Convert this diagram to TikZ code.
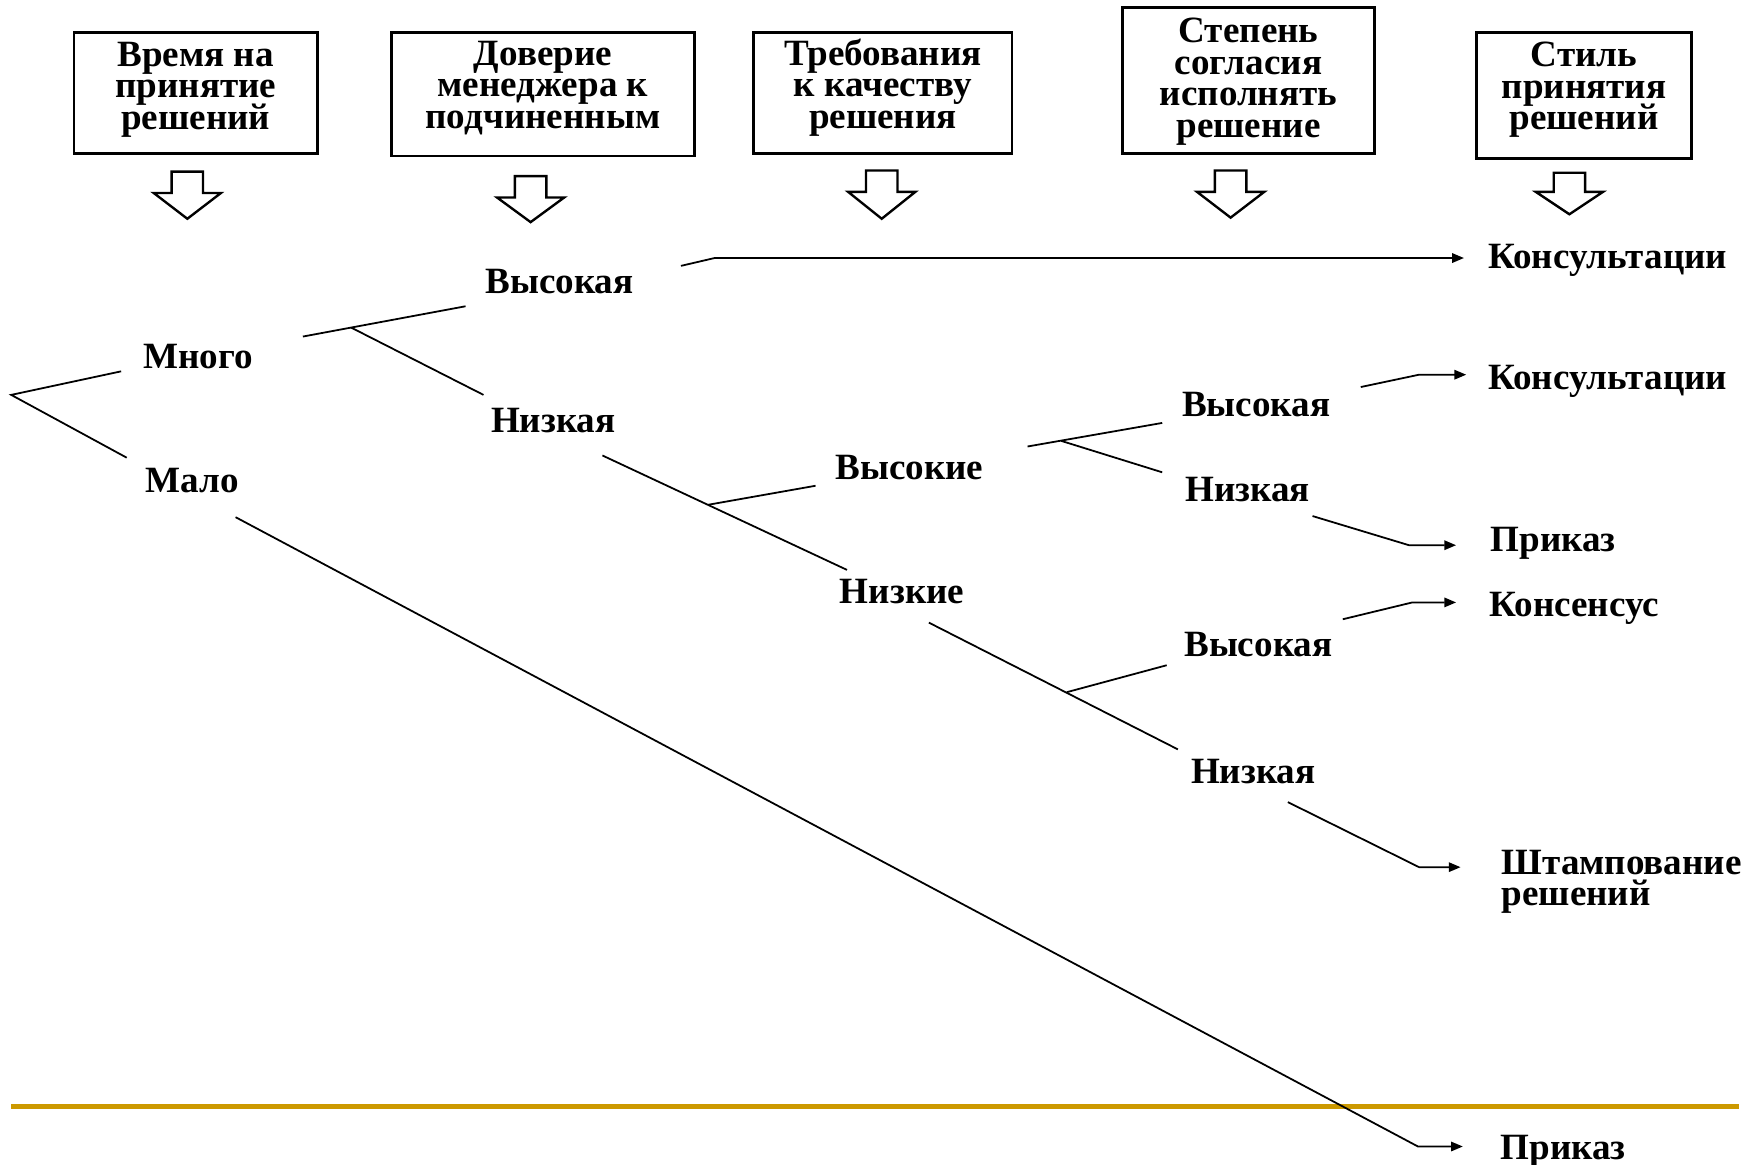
\documentclass[tikz,border=0pt]{standalone}
\usepackage{fontspec}
\setmainfont{Liberation Serif}
\usetikzlibrary{arrows.meta}
\definecolor{goldline}{RGB}{204,153,0}
\newcommand\dgboxfont{\fontsize{9.4}{8}\selectfont\bfseries\lineskiplimit=-10pt\relax}
\newcommand\dglblfont{\fontsize{9.4}{8}\selectfont\bfseries\lineskiplimit=-10pt\relax}
\tikzset{
  box/.style={draw, line width=0.7pt, align=center, font=\dgboxfont, inner sep=0pt, text depth=4.8pt},
  lbl/.style={font=\dglblfont, inner sep=0pt, anchor=west, text height=6.4pt, text depth=0pt},
  conn/.style={line width=0.45pt},
  arr/.style={conn, -{Triangle[length=3pt,width=2.4pt]}},
  hollow/.style={draw, line width=0.6pt, fill=white, line join=miter}
}
\newcommand\hollowdown[4]{% cx, top, head base, tip
  \draw[hollow] ({#1-14},#2) -- ({#1+14},#2) -- ({#1+14},#3) -- ({#1+30},#3) -- (#1,#4)
     -- ({#1-30},#3) -- ({#1-14},#3) -- cycle;}
\begin{document}
\begin{tikzpicture}[x=0.01cm, y=-0.01cm]
\useasboundingbox (0,0) rectangle (1568,1038.5);

% header boxes
\node[box, text depth=3.8pt, minimum width=2.17cm, minimum height=1.08cm] (b1) at (174.5,83) {Время на\\принятие\\решений};
\node[box, minimum width=2.70cm, minimum height=1.10cm] (b2) at (484,84) {Доверие\\менеджера к\\подчиненным};
\node[box, minimum width=2.30cm, minimum height=1.08cm] (b3) at (787,83) {Требования\\к качеству\\решения};
\node[box, text depth=1.5pt, minimum width=2.24cm, minimum height=1.30cm] (b4) at (1113,72) {Степень\\согласия\\исполнять\\решение};
\node[box, minimum width=1.92cm, minimum height=1.12cm] (b5) at (1412,85) {Стиль\\принятия\\решений};

% hollow arrows
\hollowdown{167}{153}{172}{195}
\hollowdown{473}{157}{176}{198}
\hollowdown{786}{152}{171}{195}
\hollowdown{1097}{152}{171}{194}
\hollowdown{1399}{154}{171}{191}

% labels
\node[lbl] (mnogo) at (127,317) {Много};
\node[lbl] (malo) at (129,428) {Мало};
\node[lbl] (vys2) at (432,250) {Высокая};
\node[lbl] (niz2) at (437,374) {Низкая};
\node[lbl] (vys3) at (744,416) {Высокие};
\node[lbl] (niz3) at (748,527) {Низкие};
\node[lbl] (vys4a) at (1053,360) {Высокая};
\node[lbl] (niz4a) at (1056,436) {Низкая};
\node[lbl] (vys4b) at (1055,574) {Высокая};
\node[lbl] (niz4b) at (1061,687) {Низкая};
\node[lbl] (kons1) at (1326,228) {Консультации};
\node[lbl] (kons2) at (1326,336) {Консультации};
\node[lbl] (prik1) at (1328,480) {Приказ};
\node[lbl] (konsen) at (1327,538) {Консенсус};
\node[font=\dglblfont, inner sep=0pt, anchor=north west, align=left] (shtamp) at (1338,757) {Штампование\\решений};
\node[lbl] (prik2) at (1337,1022) {Приказ};

% coordinates
\coordinate (r0) at (10,352);
\coordinate (r1) at (108,331);
\coordinate (r2) at (113,408);
\coordinate (m0) at (270,300);
\coordinate (m1) at (415,273);
\coordinate (mj) at (313,292);
\coordinate (m2) at (431,352);
\coordinate (l0) at (210,461);
\coordinate (l1) at (1264,1022);
\coordinate (l2) at (1304,1022);
\coordinate (v0) at (607,237);
\coordinate (v1) at (637,230);
\coordinate (v2) at (1305,230);
\coordinate (n0) at (537,406);
\coordinate (n1) at (755,508);
\coordinate (nj) at (631,450);
\coordinate (n2) at (727,433);
\coordinate (h0) at (916,398);
\coordinate (h1) at (1036,377);
\coordinate (hj) at (946,393);
\coordinate (h2) at (1036,421);
\coordinate (a0) at (1213,345);
\coordinate (a1) at (1265,334);
\coordinate (a2) at (1307,334);
\coordinate (bb0) at (1170,460);
\coordinate (bb1) at (1256,486);
\coordinate (bb2) at (1298,486);
\coordinate (k0) at (828,555);
\coordinate (k1) at (1050,668);
\coordinate (kj) at (951,617);
\coordinate (k2) at (1040,593);
\coordinate (c0) at (1197,552);
\coordinate (c1) at (1259,537);
\coordinate (c2) at (1298,537);
\coordinate (d0) at (1148,715);
\coordinate (d1) at (1265,773);
\coordinate (d2) at (1302,773);

% connectors
\draw[conn] (r1) -- (r0) -- (r2);
\draw[conn] (m0) -- (m1);
\draw[conn] (mj) -- (m2);
\draw[arr] (v0) -- (v1) -- (v2);
\draw[conn] (n0) -- (n1);
\draw[conn] (nj) -- (n2);
\draw[conn] (h0) -- (h1);
\draw[conn] (hj) -- (h2);
\draw[arr] (a0) -- (a1) -- (a2);
\draw[arr] (bb0) -- (bb1) -- (bb2);
\draw[conn] (k0) -- (k1);
\draw[conn] (kj) -- (k2);
\draw[arr] (c0) -- (c1) -- (c2);
\draw[arr] (d0) -- (d1) -- (d2);

% gold rule
\coordinate (g0) at (10,986);
\coordinate (g1) at (1550,986);
\draw[goldline, line width=1.3pt] (g0) -- (g1);
% the long line crosses over the rule
\draw[arr] (l0) -- (l1) -- (l2);
\end{tikzpicture}
\end{document}
